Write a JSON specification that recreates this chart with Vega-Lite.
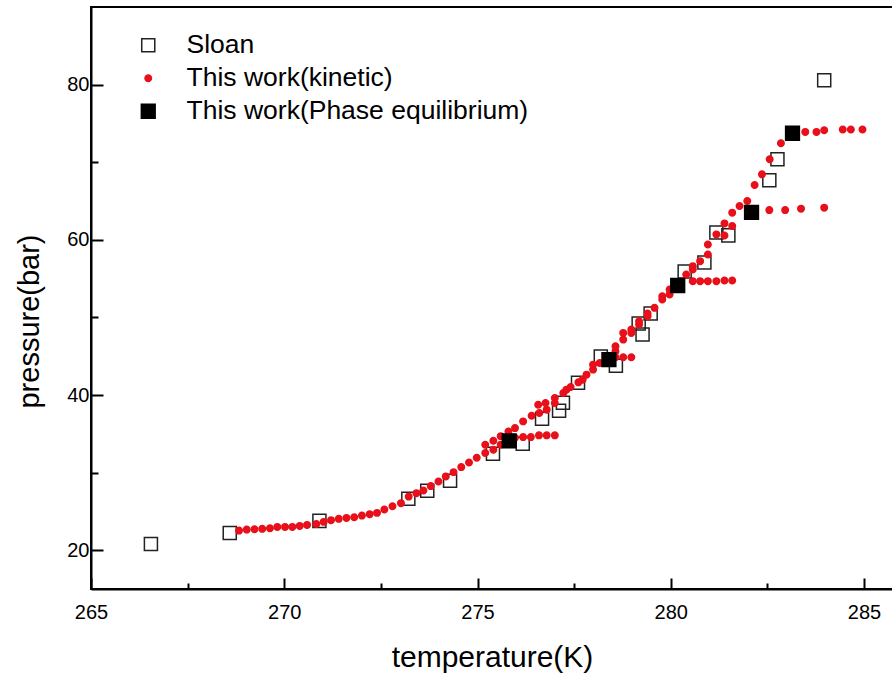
{
  "$schema": "https://vega.github.io/schema/vega-lite/v6.json",
  "width": 802,
  "height": 582,
  "autosize": {"type": "none"},
  "padding": {"left": 91, "top": 7, "right": 0, "bottom": 88},
  "background": "white",
  "config": {
    "view": {"stroke": "black", "strokeWidth": 2},
    "font": "Liberation Sans"
  },
  "data": {
    "values": [
      {"s": "Sloan", "T": 266.55, "P": 20.81},
      {"s": "Sloan", "T": 268.59, "P": 22.23},
      {"s": "Sloan", "T": 270.91, "P": 23.78},
      {"s": "Sloan", "T": 273.21, "P": 26.62},
      {"s": "Sloan", "T": 273.70, "P": 27.65},
      {"s": "Sloan", "T": 274.29, "P": 28.94},
      {"s": "Sloan", "T": 275.40, "P": 32.43},
      {"s": "Sloan", "T": 276.17, "P": 33.72},
      {"s": "Sloan", "T": 276.67, "P": 36.94},
      {"s": "Sloan", "T": 277.11, "P": 37.98},
      {"s": "Sloan", "T": 277.21, "P": 39.01},
      {"s": "Sloan", "T": 277.60, "P": 41.59},
      {"s": "Sloan", "T": 278.19, "P": 44.95},
      {"s": "Sloan", "T": 278.58, "P": 43.78},
      {"s": "Sloan", "T": 279.17, "P": 49.21},
      {"s": "Sloan", "T": 279.27, "P": 47.79},
      {"s": "Sloan", "T": 279.48, "P": 50.50},
      {"s": "Sloan", "T": 280.36, "P": 55.92},
      {"s": "Sloan", "T": 280.87, "P": 57.08},
      {"s": "Sloan", "T": 281.18, "P": 60.95},
      {"s": "Sloan", "T": 281.49, "P": 60.57},
      {"s": "Sloan", "T": 282.55, "P": 67.67},
      {"s": "Sloan", "T": 282.76, "P": 70.38},
      {"s": "Sloan", "T": 283.97, "P": 80.57},

      {"s": "This work(kinetic)", "T": 268.83, "P": 22.53},
      {"s": "This work(kinetic)", "T": 269.03, "P": 22.66},
      {"s": "This work(kinetic)", "T": 269.23, "P": 22.70},
      {"s": "This work(kinetic)", "T": 269.43, "P": 22.75},
      {"s": "This work(kinetic)", "T": 269.63, "P": 22.83},
      {"s": "This work(kinetic)", "T": 269.82, "P": 23.00},
      {"s": "This work(kinetic)", "T": 270.02, "P": 23.00},
      {"s": "This work(kinetic)", "T": 270.21, "P": 23.00},
      {"s": "This work(kinetic)", "T": 270.40, "P": 23.13},
      {"s": "This work(kinetic)", "T": 270.59, "P": 23.26},
      {"s": "This work(kinetic)", "T": 270.83, "P": 23.39},
      {"s": "This work(kinetic)", "T": 271.02, "P": 23.65},
      {"s": "This work(kinetic)", "T": 271.21, "P": 23.87},
      {"s": "This work(kinetic)", "T": 271.41, "P": 24.04},
      {"s": "This work(kinetic)", "T": 271.61, "P": 24.16},
      {"s": "This work(kinetic)", "T": 271.81, "P": 24.25},
      {"s": "This work(kinetic)", "T": 272.01, "P": 24.46},
      {"s": "This work(kinetic)", "T": 272.21, "P": 24.64},
      {"s": "This work(kinetic)", "T": 272.40, "P": 24.81},
      {"s": "This work(kinetic)", "T": 272.59, "P": 25.24},
      {"s": "This work(kinetic)", "T": 272.80, "P": 25.67},
      {"s": "This work(kinetic)", "T": 273.02, "P": 26.06},
      {"s": "This work(kinetic)", "T": 273.22, "P": 26.91},
      {"s": "This work(kinetic)", "T": 273.42, "P": 27.35},
      {"s": "This work(kinetic)", "T": 273.60, "P": 27.69},
      {"s": "This work(kinetic)", "T": 273.79, "P": 28.26},
      {"s": "This work(kinetic)", "T": 273.99, "P": 28.85},
      {"s": "This work(kinetic)", "T": 274.18, "P": 29.50},
      {"s": "This work(kinetic)", "T": 274.38, "P": 30.06},
      {"s": "This work(kinetic)", "T": 274.58, "P": 30.71},
      {"s": "This work(kinetic)", "T": 274.78, "P": 31.30},
      {"s": "This work(kinetic)", "T": 274.98, "P": 31.91},
      {"s": "This work(kinetic)", "T": 275.20, "P": 32.52},
      {"s": "This work(kinetic)", "T": 275.20, "P": 33.59},
      {"s": "This work(kinetic)", "T": 275.41, "P": 32.94},
      {"s": "This work(kinetic)", "T": 275.41, "P": 34.10},
      {"s": "This work(kinetic)", "T": 275.60, "P": 33.60},
      {"s": "This work(kinetic)", "T": 275.60, "P": 34.70},
      {"s": "This work(kinetic)", "T": 275.80, "P": 35.30},
      {"s": "This work(kinetic)", "T": 275.97, "P": 35.74},
      {"s": "This work(kinetic)", "T": 276.18, "P": 36.60},
      {"s": "This work(kinetic)", "T": 276.40, "P": 37.33},
      {"s": "This work(kinetic)", "T": 276.60, "P": 37.68},
      {"s": "This work(kinetic)", "T": 276.79, "P": 38.11},
      {"s": "This work(kinetic)", "T": 276.57, "P": 38.75},
      {"s": "This work(kinetic)", "T": 276.76, "P": 38.97},
      {"s": "This work(kinetic)", "T": 277.00, "P": 39.62},
      {"s": "This work(kinetic)", "T": 277.00, "P": 38.97},
      {"s": "This work(kinetic)", "T": 277.22, "P": 40.26},
      {"s": "This work(kinetic)", "T": 277.30, "P": 40.69},
      {"s": "This work(kinetic)", "T": 277.41, "P": 41.03},
      {"s": "This work(kinetic)", "T": 277.61, "P": 41.63},
      {"s": "This work(kinetic)", "T": 277.72, "P": 41.98},
      {"s": "This work(kinetic)", "T": 277.82, "P": 42.62},
      {"s": "This work(kinetic)", "T": 277.99, "P": 43.27},
      {"s": "This work(kinetic)", "T": 277.99, "P": 43.91},
      {"s": "This work(kinetic)", "T": 278.16, "P": 44.13},
      {"s": "This work(kinetic)", "T": 278.37, "P": 44.90},
      {"s": "This work(kinetic)", "T": 278.57, "P": 45.63},
      {"s": "This work(kinetic)", "T": 278.57, "P": 46.27},
      {"s": "This work(kinetic)", "T": 278.77, "P": 47.14},
      {"s": "This work(kinetic)", "T": 278.77, "P": 48.00},
      {"s": "This work(kinetic)", "T": 278.98, "P": 48.00},
      {"s": "This work(kinetic)", "T": 278.98, "P": 48.43},
      {"s": "This work(kinetic)", "T": 279.18, "P": 49.08},
      {"s": "This work(kinetic)", "T": 279.18, "P": 49.50},
      {"s": "This work(kinetic)", "T": 279.40, "P": 50.15},
      {"s": "This work(kinetic)", "T": 279.40, "P": 50.50},
      {"s": "This work(kinetic)", "T": 279.58, "P": 51.23},
      {"s": "This work(kinetic)", "T": 279.78, "P": 52.30},
      {"s": "This work(kinetic)", "T": 279.78, "P": 52.73},
      {"s": "This work(kinetic)", "T": 279.97, "P": 52.95},
      {"s": "This work(kinetic)", "T": 279.97, "P": 53.60},
      {"s": "This work(kinetic)", "T": 280.40, "P": 55.53},
      {"s": "This work(kinetic)", "T": 280.57, "P": 56.18},
      {"s": "This work(kinetic)", "T": 280.57, "P": 56.60},
      {"s": "This work(kinetic)", "T": 280.76, "P": 57.25},
      {"s": "This work(kinetic)", "T": 280.96, "P": 58.11},
      {"s": "This work(kinetic)", "T": 280.96, "P": 59.40},
      {"s": "This work(kinetic)", "T": 281.18, "P": 60.70},
      {"s": "This work(kinetic)", "T": 281.39, "P": 62.11},
      {"s": "This work(kinetic)", "T": 281.39, "P": 60.56},
      {"s": "This work(kinetic)", "T": 281.59, "P": 61.77},
      {"s": "This work(kinetic)", "T": 281.59, "P": 63.50},
      {"s": "This work(kinetic)", "T": 281.78, "P": 64.36},
      {"s": "This work(kinetic)", "T": 281.98, "P": 65.00},
      {"s": "This work(kinetic)", "T": 282.17, "P": 67.06},
      {"s": "This work(kinetic)", "T": 282.36, "P": 68.44},
      {"s": "This work(kinetic)", "T": 282.56, "P": 70.38},
      {"s": "This work(kinetic)", "T": 282.85, "P": 72.44},
      {"s": "This work(kinetic)", "T": 275.97, "P": 34.50},
      {"s": "This work(kinetic)", "T": 276.18, "P": 34.58},
      {"s": "This work(kinetic)", "T": 276.38, "P": 34.58},
      {"s": "This work(kinetic)", "T": 276.59, "P": 34.80},
      {"s": "This work(kinetic)", "T": 276.79, "P": 34.80},
      {"s": "This work(kinetic)", "T": 277.00, "P": 34.80},
      {"s": "This work(kinetic)", "T": 278.57, "P": 44.86},
      {"s": "This work(kinetic)", "T": 278.77, "P": 44.86},
      {"s": "This work(kinetic)", "T": 278.98, "P": 44.86},
      {"s": "This work(kinetic)", "T": 280.57, "P": 54.67},
      {"s": "This work(kinetic)", "T": 280.76, "P": 54.67},
      {"s": "This work(kinetic)", "T": 280.96, "P": 54.67},
      {"s": "This work(kinetic)", "T": 281.18, "P": 54.67},
      {"s": "This work(kinetic)", "T": 281.39, "P": 54.76},
      {"s": "This work(kinetic)", "T": 281.59, "P": 54.76},
      {"s": "This work(kinetic)", "T": 282.55, "P": 63.83},
      {"s": "This work(kinetic)", "T": 282.96, "P": 63.83},
      {"s": "This work(kinetic)", "T": 283.37, "P": 64.01},
      {"s": "This work(kinetic)", "T": 283.97, "P": 64.14},
      {"s": "This work(kinetic)", "T": 283.48, "P": 73.90},
      {"s": "This work(kinetic)", "T": 283.77, "P": 73.90},
      {"s": "This work(kinetic)", "T": 283.97, "P": 74.12},
      {"s": "This work(kinetic)", "T": 284.45, "P": 74.21},
      {"s": "This work(kinetic)", "T": 284.66, "P": 74.21},
      {"s": "This work(kinetic)", "T": 284.96, "P": 74.21},

      {"s": "This work(Phase equilibrium)", "T": 275.82, "P": 34.10},
      {"s": "This work(Phase equilibrium)", "T": 278.40, "P": 44.56},
      {"s": "This work(Phase equilibrium)", "T": 280.18, "P": 54.11},
      {"s": "This work(Phase equilibrium)", "T": 282.09, "P": 63.53},
      {"s": "This work(Phase equilibrium)", "T": 283.15, "P": 73.73}
    ]
  },
  "mark": {"type": "point", "opacity": 1, "strokeWidth": 1.5},
  "encoding": {
    "x": {
      "field": "T",
      "type": "quantitative",
      "scale": {"domain": [265, 285.75], "nice": false, "zero": false},
      "axis": {
        "title": "temperature(K)",
        "values": [265, 267.5, 270, 272.5, 275, 277.5, 280, 282.5, 285],
        "labelExpr": "datum.value % 5 === 0 ? datum.label : ''",
        "tickSize": {"condition": {"test": "datum.value % 5 === 0", "value": -11}, "value": -6},
        "tickWidth": 2,
        "tickColor": "black",
        "domainColor": "black",
        "domainWidth": 2,
        "grid": false,
        "labelFont": "Liberation Sans",
        "labelFontSize": 20,
        "labelColor": "black",
        "labelPadding": 24,
        "labelFlush": false,
        "titleFont": "Liberation Sans",
        "titleFontSize": 30,
        "titleFontWeight": "normal",
        "titleColor": "black",
        "titlePadding": 20
      }
    },
    "y": {
      "field": "P",
      "type": "quantitative",
      "scale": {"domain": [15, 90], "nice": false, "zero": false},
      "axis": {
        "title": "pressure(bar)",
        "titleY": 314,
        "values": [20, 30, 40, 50, 60, 70, 80],
        "labelExpr": "datum.value % 20 === 0 ? datum.label : ''",
        "tickSize": {"condition": {"test": "datum.value % 20 === 0", "value": -12}, "value": -7},
        "tickWidth": 2,
        "tickColor": "black",
        "domainColor": "black",
        "domainWidth": 2,
        "grid": false,
        "labelFont": "Liberation Sans",
        "labelFontSize": 20,
        "labelColor": "black",
        "labelPadding": 14,
        "labelFlush": false,
        "titleFont": "Liberation Sans",
        "titleFontSize": 29,
        "titleFontWeight": "normal",
        "titleColor": "black",
        "titlePadding": 22
      }
    },
    "shape": {
      "field": "s",
      "type": "nominal",
      "scale": {
        "domain": ["Sloan", "This work(kinetic)", "This work(Phase equilibrium)"],
        "range": ["square", "circle", "square"]
      },
      "legend": {
        "title": null,
        "orient": "none",
        "legendX": 44,
        "legendY": 25,
        "labelFont": "Liberation Sans",
        "labelFontSize": 26.5,
        "labelColor": "black",
        "labelOffset": 25,
        "labelLimit": 0,
        "rowPadding": 6,
        "padding": 0
      }
    },
    "fill": {
      "field": "s",
      "type": "nominal",
      "scale": {
        "domain": ["Sloan", "This work(kinetic)", "This work(Phase equilibrium)"],
        "range": ["transparent", "#e8101a", "black"]
      }
    },
    "stroke": {
      "field": "s",
      "type": "nominal",
      "scale": {
        "domain": ["Sloan", "This work(kinetic)", "This work(Phase equilibrium)"],
        "range": ["#222222", "#e8101a", "black"]
      }
    },
    "size": {
      "field": "s",
      "type": "nominal",
      "scale": {
        "type": "ordinal",
        "domain": ["Sloan", "This work(kinetic)", "This work(Phase equilibrium)"],
        "range": [170, 42, 190]
      }
    }
  }
}
